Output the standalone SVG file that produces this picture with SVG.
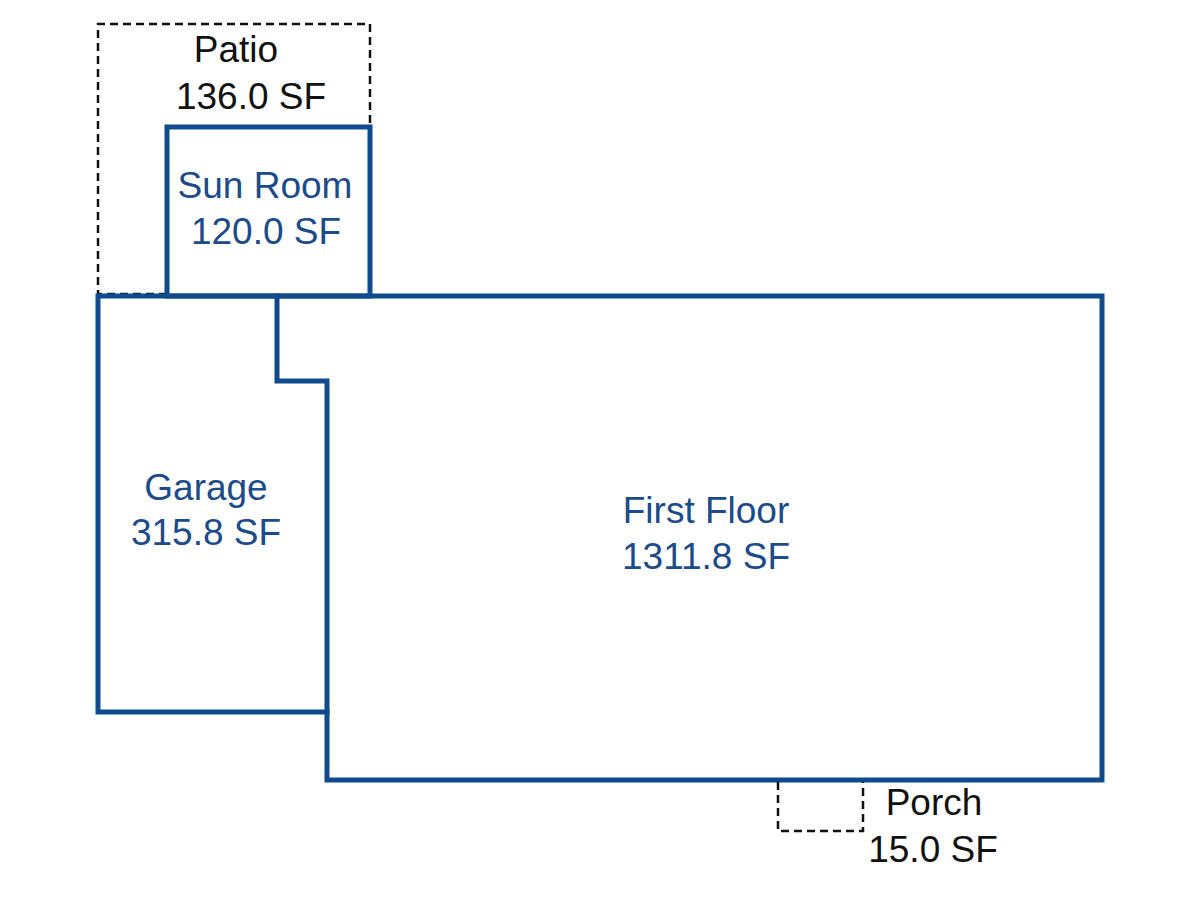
<svg xmlns="http://www.w3.org/2000/svg" width="1200" height="900" viewBox="0 0 1200 900">
<style>
.wall{fill:none;stroke:#0f4a8c;stroke-width:5;stroke-linejoin:miter;stroke-linecap:square}
.dash{fill:none;stroke:#111;stroke-width:2.5;stroke-dasharray:8,5}
.lbl{font-family:"Liberation Sans",Arial,sans-serif;font-size:37px;text-anchor:middle}
.blue{fill:#1b4b8a}
.blk{fill:#111}
</style>
<rect width="1200" height="900" fill="#fff"/>
<g id="patio">
<path class="dash" d="M167,294 L98,294 L98,24 L370,24 L370,127"/>
<text class="lbl blk" x="236" y="62">Patio</text>
<text class="lbl blk" x="251" y="109">136.0 SF</text>
</g>
<g id="sunroom">
<rect class="wall" x="167" y="127" width="203" height="169"/>
<text class="lbl blue" x="265" y="198">Sun Room</text>
<text class="lbl blue" x="266" y="244">120.0 SF</text>
</g>
<g id="garage">
<path class="wall" d="M327,712 L98,712 L98,296 L277,296"/>
<text class="lbl blue" x="206" y="500">Garage</text>
<text class="lbl blue" x="206" y="545">315.8 SF</text>
</g>
<g id="firstfloor">
<path class="wall" d="M277,296 L1102,296 L1102,780 L327,780 L327,381 L277,381 Z"/>
<text class="lbl blue" x="706" y="523">First Floor</text>
<text class="lbl blue" x="706" y="569">1311.8 SF</text>
</g>
<g id="porch">
<path class="dash" d="M778,782 L778,831 L863,831 L863,782"/>
<text class="lbl blk" x="934" y="815">Porch</text>
<text class="lbl blk" x="933" y="862">15.0 SF</text>
</g>
<g id="connectors"></g>
</svg>
